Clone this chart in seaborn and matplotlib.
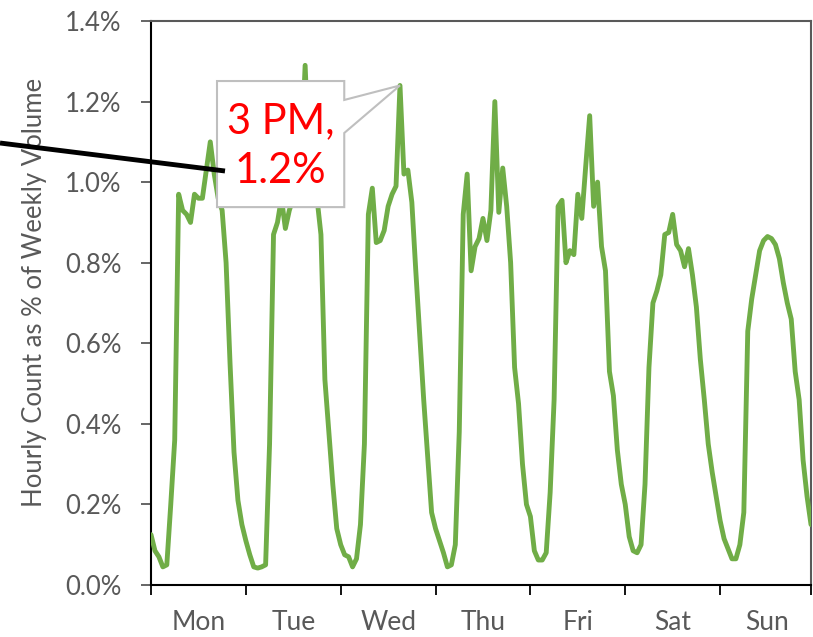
import matplotlib
matplotlib.use("Agg")
import matplotlib.pyplot as plt
from matplotlib.patches import Polygon
from matplotlib.lines import Line2D
from matplotlib.ticker import FuncFormatter
import numpy as np
import pandas as pd
import seaborn as sns

days = ["Mon", "Tue", "Wed", "Thu", "Fri", "Sat", "Sun"]

# Hourly count as % of weekly volume, hours 0..23 for each day
mon = [0.125, 0.085, 0.07, 0.045, 0.05, 0.20, 0.36, 0.97, 0.93, 0.92, 0.90, 0.97,
       0.96, 0.96, 1.03, 1.10, 1.02, 0.96, 0.93, 0.80, 0.55, 0.33, 0.21, 0.15]
tue = [0.11, 0.075, 0.045, 0.042, 0.045, 0.05, 0.35, 0.87, 0.90, 0.96, 0.885, 0.93,
       0.96, 1.00, 1.05, 1.29, 1.05, 1.00, 0.96, 0.87, 0.51, 0.38, 0.25, 0.14]
wed = [0.10, 0.075, 0.07, 0.045, 0.065, 0.15, 0.35, 0.92, 0.985, 0.85, 0.855, 0.88,
       0.94, 0.97, 0.99, 1.24, 1.02, 1.03, 0.95, 0.78, 0.62, 0.46, 0.32, 0.18]
thu = [0.14, 0.11, 0.08, 0.045, 0.05, 0.10, 0.38, 0.92, 1.02, 0.78, 0.84, 0.86,
       0.91, 0.855, 0.93, 1.20, 0.925, 1.035, 0.94, 0.80, 0.54, 0.45, 0.30, 0.20]
fri = [0.17, 0.085, 0.062, 0.062, 0.08, 0.23, 0.46, 0.94, 0.955, 0.80, 0.83, 0.82,
       0.97, 0.91, 1.04, 1.165, 0.94, 1.00, 0.84, 0.78, 0.53, 0.47, 0.335, 0.25]
sat = [0.20, 0.12, 0.085, 0.08, 0.10, 0.25, 0.54, 0.70, 0.73, 0.77, 0.87, 0.875,
       0.92, 0.845, 0.83, 0.79, 0.835, 0.77, 0.69, 0.56, 0.46, 0.35, 0.28, 0.22]
sun = [0.16, 0.115, 0.09, 0.065, 0.065, 0.10, 0.18, 0.63, 0.71, 0.77, 0.83, 0.855,
       0.865, 0.86, 0.845, 0.81, 0.75, 0.70, 0.66, 0.53, 0.46, 0.31, 0.22, 0.15]

week = [mon, tue, wed, thu, fri, sat, sun]
share = np.concatenate(week)
df = pd.DataFrame({"hour": np.arange(len(share)), "share": share})

sns.set_theme(style="white")
plt.rcParams["font.family"] = ["Lato", "DejaVu Sans"]

GRAY = "#595959"
GREEN = "#70AD47"

fig = plt.figure(figsize=(8.13, 6.37), dpi=100)
ax = fig.add_axes([151 / 813, 52 / 637, 660 / 813, 564 / 637])

sns.lineplot(data=df, x="hour", y="share", color=GREEN, linewidth=3.5,
             ax=ax, zorder=3)
for ln in ax.lines:
    ln.set_solid_joinstyle("round")
    ln.set_solid_capstyle("round")

n = len(share)
ax.set_xlim(0, n - 1)
ax.set_ylim(0, 1.4)
ax.set_xlabel("")
ax.set_ylabel("")

# y axis: percent ticks
ax.set_yticks(np.arange(0, 1.41, 0.2))
ax.yaxis.set_major_formatter(FuncFormatter(lambda v, _: f"{v:.1f}%"))
ax.tick_params(axis="y", which="major", direction="out", length=7, width=1.3,
               color=GRAY, labelcolor=GRAY, labelsize=18.5, pad=14, left=True)

# x axis: ticks at day boundaries, day names centred between them
ax.set_xticks(list(range(0, n, 24)) + [n - 1])
ax.set_xticklabels([])
ax.set_xticks([d * 24 + 12 for d in range(len(days))], minor=True)
ax.set_xticklabels(days, minor=True)
ax.tick_params(axis="x", which="major", direction="out", length=7, width=1.3,
               color="black", bottom=True)
ax.tick_params(axis="x", which="minor", length=0, labelcolor=GRAY,
               labelsize=19, pad=18)

for side in ["left", "bottom"]:
    ax.spines[side].set_color("black")
    ax.spines[side].set_linewidth(1.5)
for side in ["top", "right"]:
    ax.spines[side].set_color(GRAY)
    ax.spines[side].set_linewidth(1.5)

fig.text(35 / 813, 1 - 292 / 637, "Hourly Count as % of Weekly Volume",
         rotation=90, ha="center", va="center", color=GRAY, fontsize=18.5)

# callout for the Wednesday afternoon peak
peak_day, peak_hour = 2, 15
tip_x = peak_day * 24 + peak_hour
tip_y = wed[peak_hour]
bx0, bx1 = 16.7, 48.9
by0, by1 = 0.938, 1.251
wy0, wy1 = 1.122, 1.204
callout = Polygon([(bx0, by1), (bx1, by1), (bx1, wy1), (tip_x, tip_y),
                   (bx1, wy0), (bx1, by0), (bx0, by0)],
                  closed=True, facecolor="white", edgecolor="#BFBFBF",
                  linewidth=1.5, zorder=5)
ax.add_patch(callout)
hour12 = peak_hour - 12 if peak_hour > 12 else peak_hour
ax.text((bx0 + bx1) / 2, (by0 + by1) / 2 - 0.005,
        f"{hour12} PM,\n{tip_y:.1f}%", color="red", fontsize=30,
        ha="center", va="center", linespacing=1.38, zorder=6)

# leader line running in from the left edge
fig.add_artist(Line2D([0, 225 / 813], [1 - 143 / 637, 1 - 171 / 637],
                      color="black", linewidth=3.5, solid_capstyle="butt",
                      zorder=10))

fig.savefig("out.png", dpi=100)
